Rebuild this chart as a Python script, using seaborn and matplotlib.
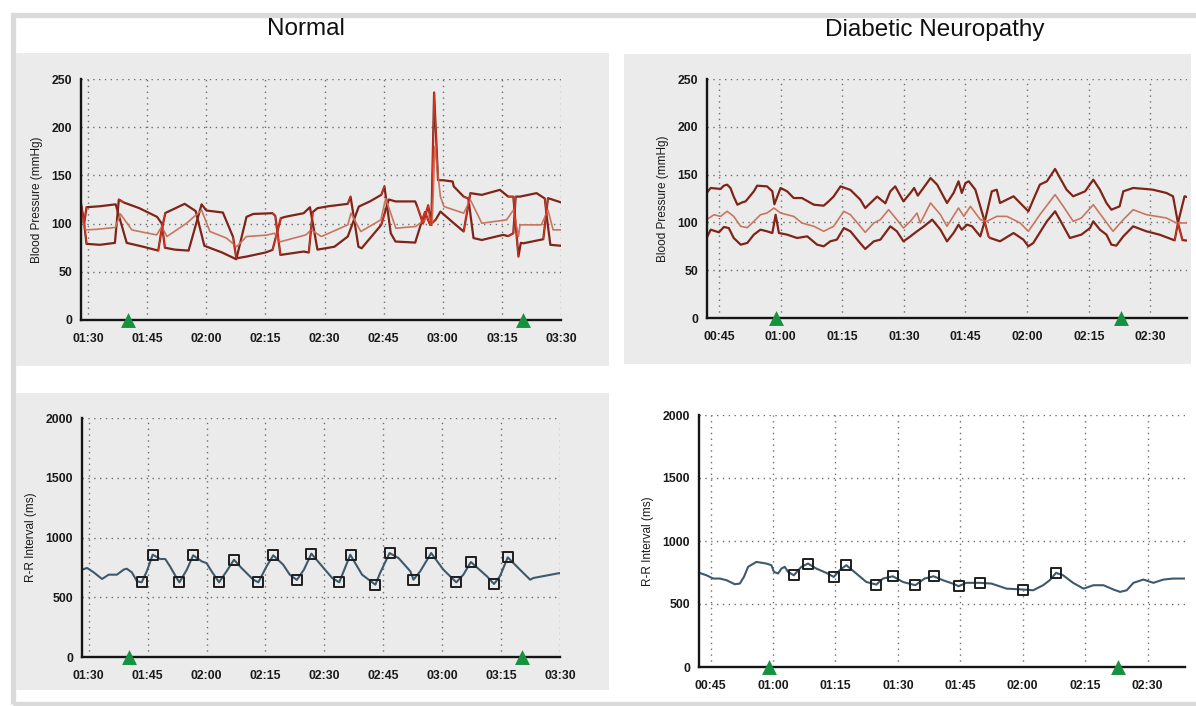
import numpy as np
import pandas as pd
import matplotlib
matplotlib.use("Agg")
import matplotlib.pyplot as plt
from matplotlib.patches import Rectangle
from matplotlib.ticker import MultipleLocator, FuncFormatter
import seaborn as sns

sns.set_theme(style="white")
plt.rcParams['font.family'] = ['Liberation Sans', 'DejaVu Sans']

# ---------------- DATA (time in minutes after 00:00) ----------------
panel_titles = ["Normal", "Diabetic Neuropathy"]
bp_label = "Blood Pressure (mmHg)"
rr_label = "R-R Interval (ms)"

# Normal - blood pressure, two finger-cuff traces (they swap at recalibration) + mean
normal_trace_a = [(88.2,121),(89.0,100),(89.6,117),(93,118),(97.0,120),
    (99.8,80),(104,76),(107.8,72),
    (108.5,90),(109.6,111),(114.5,120.5),(117.3,113),
    (119.5,77),(124,70),(127.6,63),
    (130.2,107),(131.9,110),(136.8,110.8),(137.5,108),
    (138.8,67.5),(144.7,71),(146.0,70),
    (147.0,112),(148.2,116),(151,118),(155.9,120.5),(156.6,128),
    (158.6,76),(159.4,74.4),(164.4,98.7),(165.2,110),
    (166.3,125),(168,123),(173,123),(173.5,118),
    (175,100),(176.3,119),(177.1,98.7),(177.8,236),(178.8,145),(180,145),(182.5,143.7),
    (182.8,138.5),(185.3,128),(186.5,126),
    (187.8,85),(189.9,83),(195.3,88.3),(196.6,87),(197.9,90),
    (198.5,128),(199.6,128),(203.8,131.6),(205.9,126),
    (206.3,110),(207.3,78),(210,77)]
normal_trace_b = [(88.2,118),(89.0,100),(89.6,79),(93,78),(96.8,80),
    (97.8,125),(99.0,122),(103,116),(107.5,107),
    (108.7,100),(109.5,75),(112,73),(115.5,72),
    (118.8,120),(120,113.6),(124.2,111.5),(126.8,86),(127.6,64),
    (130.2,65.8),(135,70),(136.8,72.7),
    (138.9,105.6),(140,107),(144.7,110.8),(146.3,117),
    (148.2,73),(152.5,76),(155.9,86.6),
    (158.7,117.7),(161.5,123),(164.4,129.8),(165.2,138.5),
    (166.8,90),(168,81.4),(173,80.3),
    (174.5,100),(175.5,112),(176.8,98.7),(178.2,104),(179.4,112.5),(182.8,100.4),(185.3,91.8),
    (187,131.6),(189.9,129.8),(194.5,135),(196.6,128),(197.9,128),
    (199.2,65.8),(199.8,80),(200.5,79.6),(205.5,83.8),
    (206.7,126.4),(208,124.7),(210,122)]
normal_mean = [(88.2,110),(89.3,93.5),(92,94),(96.9,96),(98.2,110),(101.1,93.5),(104,91),
    (107.4,88.3),(108.7,97),(110,86.6),(115,100.4),(118.8,114),(120.9,91.8),(125.1,85),
    (127.7,76),(130.2,86.6),(135.2,88),(137.3,90),(138.6,81),(145.3,88.3),(146.6,93.5),
    (149.2,86.6),(155.9,98.7),(156.7,110.8),(159.2,91.8),(164.3,103.9),(165.5,126),
    (168.1,95.2),(173.1,97),(176.5,107),(177.3,98.7),(178,180),(179.4,128),(180.3,117.7),
    (185.3,110.8),(187,124.7),(189.9,100.4),(196.2,103.9),(197.9,114),(199.2,86.6),
    (199.6,98.7),(205,98.7),(206.7,114),(208,93.5),(210,93.5)]
normal_recal_windows = [(88.2,89.6),(97.0,99.0),(107.8,109.6),(117.3,118.8),(126.8,127.6),
    (136.8,138.9),(145.9,147.0),(155.9,156.6),(164.4,165.2),(173.5,178.8),(185.3,187.0),
    (196.6,199.2),(205.5,206.7)]

# Diabetic neuropathy - blood pressure
dn_trace_a = [(42.0,130.8),(43.0,136),(45.4,135),(46.2,138.4),(47.0,139.5),(47.8,136),(48.6,127),
    (49.5,118.5),(50.7,121),(51.5,122),(53.5,132.5),(54.3,138.4),(56.7,137.7),(58.0,132.5),
    (58.5,119),(59.2,127),(60.0,136),(61.6,132.5),(63.2,125.5),(65.2,125.5),(68.1,118.5),
    (70.5,117.5),(71.7,122),(72.9,127),(74.6,137.7),(77.0,134),(79.4,123.8),(80.6,115),
    (81.8,120),(83.5,127),(85.5,120),(86.7,132.5),(87.9,137.7),(89.9,122),(91.6,130.8),
    (92.5,136),(93.4,128),(96.5,146.4),(98.1,139.5),(100.5,120.3),(102.1,130.8),(103.3,143),
    (104.1,130.8),(105.0,141.2),(105.8,143),(107.4,134.2),(109.4,105),(110.6,85.4),
    (111.0,83.7),(113.4,80.2),(116.7,88.9),(119.1,81.9),(120.3,75),(121.5,78.5),(124.8,101.1),
    (126.8,111.6),(128.4,99.4),(130.4,83.7),(133.2,87.2),(135.3,94.1),(136.1,101.1),
    (137.7,92.4),(139.3,87.2),(140.5,76.7),(141.7,75.7),(143.4,85.4),(145.8,95.9),
    (149.0,90.7),(152.2,87.2),(155.9,81.2),(156.7,99.4),(158.3,127.3),(158.9,126.5)]
dn_trace_b = [(42.0,83.7),(43.0,92.4),(45.0,89.6),(46.2,95.2),(47.4,94.1),(48.6,83.7),(50.3,76.7),
    (51.9,78.5),(53.5,87.2),(55.1,92.4),(56.7,90.7),(58.0,88.9),(58.8,108),(59.6,88.9),
    (61.6,87.2),(64.0,83.7),(66.5,85.4),(68.9,76.7),(70.5,75),(72.1,80.2),(73.7,82),
    (75.4,94.1),(77.0,90.7),(79.0,80.2),(80.6,72.2),(82.7,80.2),(84.3,82),(86.7,95.9),
    (88.3,90.7),(89.9,80.2),(91.6,85.4),(93.2,90.7),(94.9,95.9),(96.9,102.9),(98.9,92.4),
    (100.5,80.2),(102.1,88.9),(103.3,97.6),(104.1,92.4),(105.4,97.6),(106.6,95.9),
    (108.6,85.4),(109.8,102.9),(111.4,132.5),(112.6,134.2),(113.4,120.3),(116.7,127.3),
    (119.1,116.8),(120.3,111.6),(121.5,123.8),(123.1,139.5),(124.8,143),(126.8,155.9),
    (128.0,146.4),(129.6,134.2),(131.2,127.3),(134.1,132.5),(136.1,144.7),(137.7,134.2),
    (139.3,120.3),(140.5,113.3),(142.5,116.8),(143.4,132.5),(145.8,136),(149.0,134.9),
    (150.6,134.2),(153.9,130.8),(155.5,127.3),(156.7,99.4),(157.8,81.5),(158.9,81)]
dn_mean = [(42.0,102.9),(43.8,108),(45.4,106.3),(47.0,111.6),(48.6,106.3),(50.3,95.9),
    (51.9,94.5),(53.5,101.1),(55.1,108),(56.7,109.8),(58.4,115),(60.0,109.8),(63.2,106.3),
    (65.2,99.4),(68.1,95.9),(70.5,90.7),(72.9,95.9),(75.4,111.6),(77.0,108),(79.4,95.9),
    (80.6,89.6),(82.7,99.4),(84.3,102.9),(86.3,113.3),(88.3,102.9),(89.9,94.1),(91.6,101.1),
    (93.2,109.8),(94.0,99.4),(96.5,120.3),(98.9,108.1),(100.5,95.9),(103.3,115.1),
    (104.6,106.3),(106.2,116.8),(108.6,102.9),(110.2,101.1),(112.6,106.3),(115.1,106.3),
    (118.3,99.4),(120.3,90.7),(123.1,108.1),(126.8,129),(128.8,116.8),(131.2,101.1),
    (133.2,104.6),(136.1,118.5),(138.5,104.6),(140.9,90.7),(143.4,102.9),(145.8,113.3),
    (149.0,108.1),(153.9,104.6),(156.3,99.4),(158.9,99.4)]
dn_recal_windows = [(109.4,111.0),(155.9,157.8)]

# R-R intervals
normal_rr = [(88.3,731),(89.6,745),(91.3,708),(93.4,653),(95.1,689),(97.2,689),(98.9,731),
    (99.7,739),(101.0,708),(102.3,633),(103.5,625),(104.8,717),(106.3,856),(108.2,820),
    (109.5,820),(110.7,759),(112.4,661),(113.1,625),(115.0,731),(116.6,851),(118.8,800),
    (120.0,786),(121.3,717),(123.2,625),(125.1,717),(127.0,814),(128.9,745),(131.9,647),
    (133.2,625),(135.3,759),(137.0,851),(139.5,773),(141.2,689),(143.0,645),(144.8,731),
    (146.7,865),(149.8,745),(152.0,661),(153.8,625),(156.6,856),(159.6,689),(163.0,605),
    (164.2,703),(166.6,870),(168.9,828),(171.9,717),(172.7,647),(174.4,717),(177.2,870),
    (180.3,731),(183.6,625),(185.4,689),(187.3,795),(191.4,675),(193.2,611),(194.7,675),
    (196.7,834),(199.8,731),(202.4,647),(203.2,661),(210,703)]
normal_rr_marks = [(103.5,625),(106.4,856),(113.1,625),(116.6,851),(123.2,625),(127.0,814),
    (133.2,625),(137.0,851),(143.0,645),(146.7,865),(153.8,625),(156.7,856),(163.0,605),
    (166.7,870),(172.7,647),(177.2,870),(183.6,625),(187.3,795),(193.2,611),(196.7,834)]
dn_rr = [(42.3,747),(44.0,728),(45.6,702),(47.2,702),(48.8,689),(50.8,657),(52.0,662),
    (53.0,715),(54.0,795),(56.0,834),(58.4,821),(59.6,808),(60.2,755),(61.2,742),(62.0,781),
    (62.8,795),(63.6,755),(65.0,728),(66.8,795),(68.4,821),(70.4,781),(72.8,747),(74.6,715),
    (76.0,768),(77.6,808),(80.0,742),(82.4,675),(84.8,654),(86.4,702),(88.8,720),(91.2,675),
    (94.2,649),(96.4,702),(98.6,720),(100.8,689),(103.2,662),(104.6,641),(106.4,668),
    (109.7,668),(112.5,662),(116.1,622),(120.1,615),(122.5,609),(124.9,649),(126.5,689),
    (128.0,747),(129.7,728),(132.1,668),(134.6,622),(137.0,649),(139.4,649),(141.8,615),
    (143.4,596),(145.0,609),(146.6,668),(149.0,694),(151.4,668),(153.8,694),(156.2,702),
    (159.0,702)]
dn_rr_marks = [(65.0,728),(68.4,821),(74.6,715),(77.6,808),(84.8,654),(88.8,720),(94.2,649),
    (98.6,720),(104.6,641),(109.7,668),(120.1,615),(128.0,747)]

normal_events = [100.2, 200.4]
dn_events = [59.0, 142.9]

# ---------------- FIGURE ----------------
W, H = 1196, 706
fig = plt.figure(figsize=(W / 100, H / 100), dpi=100)
fig.patch.set_facecolor("white")


def fr(x0, y0, x1, y1):
    return [x0 / W, 1 - y1 / H, (x1 - x0) / W, (y1 - y0) / H]


# outer light frame
fig.patches.append(Rectangle((12.5 / W, 1 - 704 / H), (1230 - 12.5) / W, (704 - 14.5) / H,
                             transform=fig.transFigure, fill=False, edgecolor="#dadada",
                             linewidth=3.8, zorder=-20))
panel_bg = "#ebebeb"
for (x0, y0, x1, y1) in [(16, 53, 609, 366), (624, 54, 1191, 364), (16, 393, 609, 690)]:
    r = fr(x0, y0, x1, y1)
    fig.patches.append(Rectangle((r[0], r[1]), r[2], r[3], transform=fig.transFigure,
                                 facecolor=panel_bg, edgecolor="none", zorder=-10))

fig.text(306 / W, 1 - 29 / H, panel_titles[0], ha="center", va="center", fontsize=17.5, color="#111")
fig.text(935 / W, 1 - 30 / H, panel_titles[1], ha="center", va="center", fontsize=17.5, color="#111")

ax_tl = fig.add_axes(fr(81, 79, 561, 320))
ax_tr = fig.add_axes(fr(707, 79, 1187, 318))
ax_bl = fig.add_axes(fr(82, 418, 560, 657))
ax_br = fig.add_axes(fr(699, 415, 1185, 667))


def hhmm(v, pos):
    m = int(round(v))
    return f"{m // 60:02d}:{m % 60:02d}"


def style(ax, xlim, ymax, ystep, label):
    ax.set_facecolor("none")
    ax.set_xlim(*xlim)
    ax.set_ylim(0, ymax)
    ax.xaxis.set_major_locator(MultipleLocator(15))
    ax.xaxis.set_major_formatter(FuncFormatter(hhmm))
    ax.yaxis.set_major_locator(MultipleLocator(ystep))
    ax.yaxis.set_minor_locator(MultipleLocator(ystep / 2))
    ax.grid(True, which="major", linestyle=(0, (1, 3.2)), color="#6e6e6e", linewidth=1.0)
    ax.set_axisbelow(True)
    for s in ["top", "right"]:
        ax.spines[s].set_visible(False)
    for s in ["left", "bottom"]:
        ax.spines[s].set_color("#151515")
        ax.spines[s].set_linewidth(1.7)
    ax.tick_params(which="both", direction="inout", color="#151515", width=1.3,
                   labelsize=8.8, labelcolor="#1a1a1a", pad=3)
    ax.tick_params(which="major", length=7)
    ax.tick_params(which="minor", length=6)
    ax.tick_params(axis="x", pad=6)
    for lab in ax.get_xticklabels() + ax.get_yticklabels():
        lab.set_fontweight("bold")
    ax.set_xlabel("")
    ax.set_ylabel(label, fontsize=8.5, color="#1a1a1a", labelpad=6)


def unz(pairs):
    a = np.array(pairs, dtype=float)
    return a[:, 0], a[:, 1]


trace_col = "#7f2418"
mean_col = "#c8765f"
recal_col = "#e0321e"


def draw_bp(ax, ta, tb, mean, windows):
    for tr in (ta, tb):
        x, y = unz(tr)
        sns.lineplot(x=x, y=y, ax=ax, color=trace_col, linewidth=1.6, estimator=None, sort=False)
    x, y = unz(mean)
    sns.lineplot(x=x, y=y, ax=ax, color=mean_col, linewidth=1.2, estimator=None, sort=False)
    for tr in (ta, tb):
        x, y = unz(tr)
        for (a, b) in windows:
            m = (x >= a) & (x <= b)
            if m.sum() >= 2:
                sns.lineplot(x=x[m], y=y[m], ax=ax, color=recal_col, linewidth=0.8,
                             estimator=None, sort=False)


def draw_rr(ax, rr, marks):
    x, y = unz(rr)
    sns.lineplot(x=x, y=y, ax=ax, color="#3d5a6c", linewidth=1.5, estimator=None, sort=False)
    mx, my = unz(marks)
    sns.scatterplot(x=mx, y=my, ax=ax, marker="s", s=52, fc="none", ec="#1e1e1e",
                    linewidth=1.4, zorder=4)


def draw_events(ax, ev):
    sns.scatterplot(x=ev, y=[0] * len(ev), ax=ax, marker="^", s=115, color="#15913f",
                    linewidth=0, clip_on=False, zorder=6)


draw_bp(ax_tl, normal_trace_a, normal_trace_b, normal_mean, normal_recal_windows)
draw_bp(ax_tr, dn_trace_a, dn_trace_b, dn_mean, dn_recal_windows)
draw_rr(ax_bl, normal_rr, normal_rr_marks)
draw_rr(ax_br, dn_rr, dn_rr_marks)

for ax, ev in [(ax_tl, normal_events), (ax_bl, normal_events), (ax_tr, dn_events), (ax_br, dn_events)]:
    draw_events(ax, ev)

style(ax_tl, (88.2, 210), 250, 50, bp_label)
style(ax_tr, (42.1, 158.9), 250, 50, bp_label)
style(ax_bl, (88.3, 210), 2000, 500, rr_label)
style(ax_br, (42.2, 159.0), 2000, 500, rr_label)

fig.savefig("out.png", dpi=100, facecolor="white")
